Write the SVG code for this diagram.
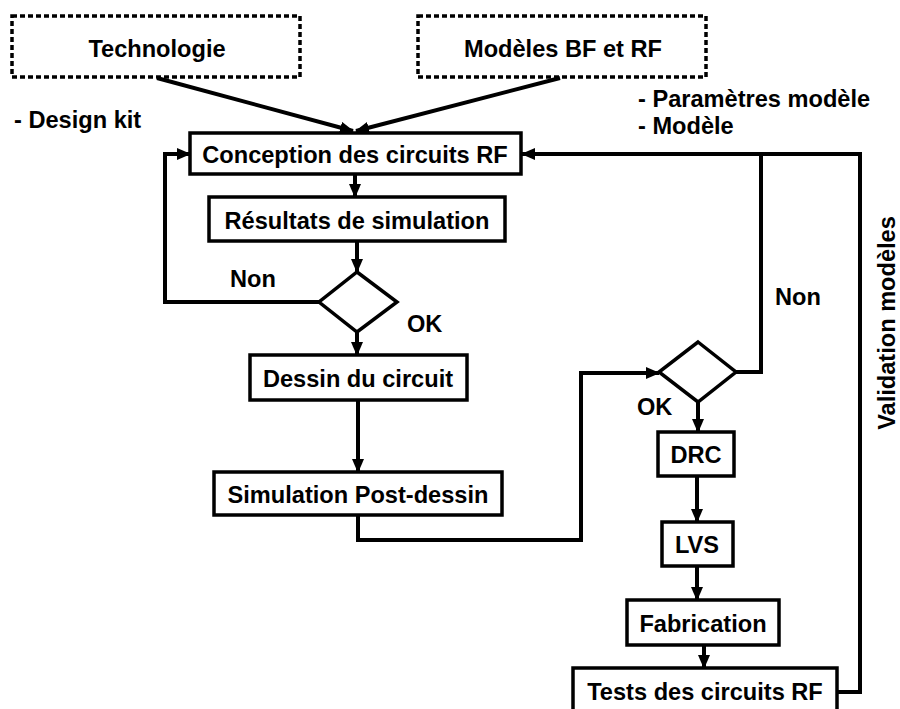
<svg xmlns="http://www.w3.org/2000/svg" width="900" height="709" viewBox="0 0 900 709">
<defs>
<marker id="ah" markerUnits="userSpaceOnUse" markerWidth="14" markerHeight="12" refX="13" refY="6" orient="auto">
<path d="M0,0 L14,6 L0,12 Z" fill="#000"/>
</marker>
<style>
text{font-family:"Liberation Sans",Arial,sans-serif;font-weight:bold;font-size:23.6px;fill:#000}
.c{text-anchor:middle}
.box{fill:#fff;stroke:#000;stroke-width:3.5}
.dot{fill:none;stroke:#000;stroke-width:3.5;stroke-dasharray:5 3}
.ln{fill:none;stroke:#000;stroke-width:4}
.ar{fill:none;stroke:#000;stroke-width:4;marker-end:url(#ah)}
</style>
</defs>
<rect width="900" height="709" fill="#fff"/>
<g id="connectors">
<line class="ar" x1="157" y1="78" x2="353" y2="131"/>
<line class="ar" x1="560" y1="78" x2="356" y2="131"/>
<line class="ar" x1="355" y1="175" x2="355" y2="197"/>
<line class="ar" x1="357" y1="241" x2="357" y2="272"/>
<polyline class="ar" points="319,302 165,302 165,154 190,154"/>
<line class="ar" x1="357" y1="332" x2="357" y2="355"/>
<line class="ar" x1="358" y1="400" x2="358" y2="472"/>
<polyline class="ar" points="358,515 358,540 581,540 581,373 659,373"/>
<polyline class="ln" points="736,372 761,372 761,154"/>
<polyline class="ar" points="837,692 860,692 860,154 522,154"/>
<line class="ar" x1="698" y1="402" x2="698" y2="432"/>
<line class="ar" x1="697" y1="476" x2="697" y2="522"/>
<line class="ar" x1="697" y1="566" x2="697" y2="600"/>
<line class="ar" x1="704" y1="645" x2="704" y2="668"/>
</g>
<g id="technologie"><rect class="dot" x="12" y="16" width="288" height="61"/><text class="c" x="157" y="57">Technologie</text></g>
<g id="modeles"><rect class="dot" x="418" y="16" width="288" height="61"/><text class="c" x="563" y="57">Modèles BF et RF</text></g>
<g id="label-designkit"><text x="14" y="128">- Design kit</text></g>
<g id="label-params"><text x="638" y="107">- Paramètres modèle</text><text x="638" y="134">- Modèle</text></g>
<g id="conception"><rect class="box" x="190" y="133" width="331" height="41"/><text class="c" x="355" y="163">Conception des circuits RF</text></g>
<g id="resultats"><rect class="box" x="209" y="197" width="296" height="44"/><text class="c" x="357" y="229">Résultats de simulation</text></g>
<g id="decision1"><polygon class="box" points="357,272 397,302 357,332 319,302"/><text x="230" y="287">Non</text><text x="407" y="332">OK</text></g>
<g id="dessin"><rect class="box" x="250" y="355" width="217" height="45"/><text class="c" x="358" y="387">Dessin du circuit</text></g>
<g id="simpost"><rect class="box" x="214" y="472" width="288" height="43"/><text class="c" x="358" y="503">Simulation Post-dessin</text></g>
<g id="decision2"><polygon class="box" points="698,342 736,372 698,402 659,372"/><text x="775" y="305">Non</text><text x="637" y="415">OK</text></g>
<g id="drc"><rect class="box" x="658" y="432" width="76" height="44"/><text class="c" x="696" y="463">DRC</text></g>
<g id="lvs"><rect class="box" x="662" y="522" width="71" height="44"/><text class="c" x="697" y="553">LVS</text></g>
<g id="fabrication"><rect class="box" x="627" y="600" width="152" height="45"/><text class="c" x="703" y="632">Fabrication</text></g>
<g id="tests"><rect class="box" x="573" y="668" width="264" height="46"/><text class="c" x="705" y="700">Tests des circuits RF</text></g>
<g id="label-validation"><text class="c" transform="translate(895,323) rotate(-90)">Validation modèles</text></g>
</svg>
